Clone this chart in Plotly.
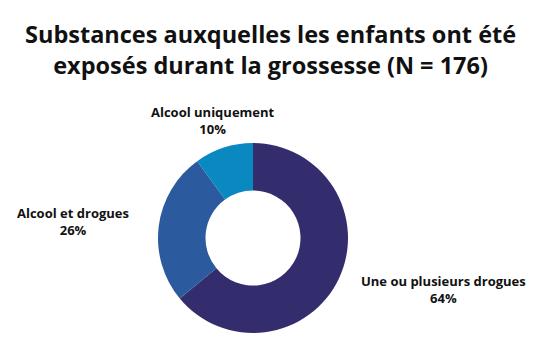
import plotly.graph_objects as go

title_text = "Substances auxquelles les enfants ont été<br>exposés durant la grossesse (N = 176)"
categories = ["Une ou plusieurs drogues", "Alcool et drogues", "Alcool uniquement"]
values = [64, 26, 10]
colors = ["#332D6E", "#2B5B9E", "#0A88C0"]

# label anchor positions (paper coords) for each category
label_pos = [(443 / 540, 1 - 289 / 350), (73 / 540, 1 - 222 / 350), (213 / 540, 1 - 121 / 350)]

W, H = 540, 350
cx, cy, r = 253, 238, 95

fig = go.Figure()
fig.add_trace(go.Pie(
    labels=categories,
    values=values,
    marker=dict(colors=colors, line=dict(width=0)),
    hole=0.5,
    sort=False,
    direction="clockwise",
    rotation=0,
    textinfo="none",
    hoverinfo="label+percent",
    showlegend=False,
    domain=dict(x=[(cx - r) / W, (cx + r) / W], y=[1 - (cy + r) / H, 1 - (cy - r) / H]),
))

annotations = [dict(
    text="<b>" + title_text + "</b>",
    x=0.5, y=1 - 49 / 350, xref="paper", yref="paper",
    xanchor="center", yanchor="middle", showarrow=False,
    font=dict(family="Open Sans", size=23.5, color="#111111"),
)]
total = sum(values)
for cat, val, (px, py) in zip(categories, values, label_pos):
    annotations.append(dict(
        text=f"<b>{cat}<br>{round(val / total * 100)}%</b>",
        x=px, y=py, xref="paper", yref="paper",
        xanchor="center", yanchor="middle", showarrow=False,
        font=dict(family="Open Sans", size=13, color="#111111"),
    ))

fig.update_layout(
    width=W, height=H,
    margin=dict(l=0, r=0, t=0, b=0),
    paper_bgcolor="white", plot_bgcolor="white",
    annotations=annotations,
)
fig.write_html("out.html")
